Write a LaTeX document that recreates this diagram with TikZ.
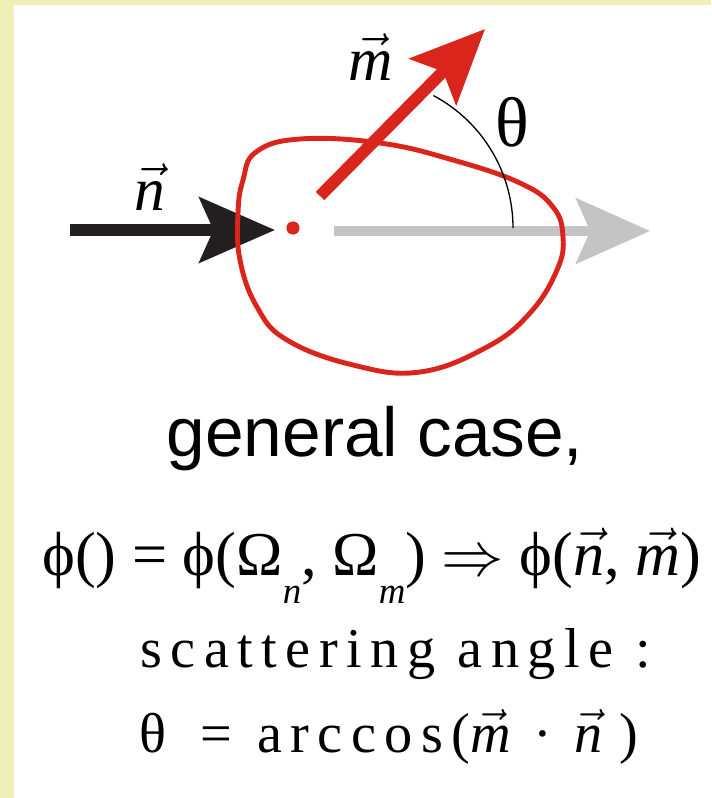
\documentclass[tikz,border=0pt]{standalone}
\usepackage{fix-cm}
\usepackage{fontspec}
\setmainfont{Liberation Serif}
\newfontfamily\arialfont{Liberation Sans}
\newfontfamily\spacedfont[LetterSpace=15]{Liberation Serif}
\usetikzlibrary{arrows.meta}
\definecolor{scred}{RGB}{218,37,29}
\definecolor{scgray}{RGB}{196,196,196}
\definecolor{scblack}{RGB}{35,31,32}
\definecolor{panelbg}{RGB}{239,240,184}
\newcommand\vecit[1]{$\vec{\mathit{#1}}$}
\newcommand\lowsub[1]{\raisebox{-0.45em}{\fontsize{21}{24}\selectfont\textit{#1}}}

\begin{document}
\begin{tikzpicture}[x=0.02cm, y=-0.02cm,
    incoming/.style={draw=scblack, line width=6.3pt, -{Stealth[length=43pt,width=37pt,inset=8pt]}},
    outgoing/.style={draw=scred, line width=6.8pt, -{Stealth[length=42pt,width=37pt,inset=8pt]}},
    forward/.style={draw=scgray, line width=5.7pt, -{Stealth[length=42pt,width=37pt,inset=8pt]}},
    blob/.style={draw=scred, line width=2.8pt},
    vlabel/.style={font=\fontsize{35}{40}\selectfont, inner sep=0pt},
    dot/.style={circle, fill=scred, inner sep=0pt, minimum size=7.5pt}]
  % panel background
  \fill[panelbg] (0,0) rectangle (711,798);
  \fill[white] (14,5) rectangle (711,798);

  % scattering centre and arrow ends
  \node[dot] (origin) at (293,228) {};
  \coordinate (nstart) at (70,230);
  \coordinate (ntip) at (275,230);
  \coordinate (fstart) at (334,231);
  \coordinate (ftip) at (650,231);
  \coordinate (mstart) at (320,196);
  \coordinate (mtip) at (485,29);
  \coordinate (thetafoot) at (513,228);

  % forward direction
  \draw[forward] (fstart) -- (ftip);
  % incoming beam
  \draw[incoming] (nstart) -- (ntip);
  % angular distribution
  \draw[blob] plot[smooth cycle, tension=0.7] coordinates {
    (243,180) (256,152) (300,139) (380,143) (453,160) (520,183) (553,207)
    (563,237) (557,270) (530,313) (487,347) (420,372) (353,365)
    (287,340) (257,307) (240,260) (238,213)};
  % scattered direction
  \draw[outgoing] (mstart) -- (mtip);
  % angle
  \draw[line width=0.75pt] (thetafoot) arc[start angle=0, end angle=-62, radius=150];

  % labels
  \node[vlabel, anchor=base] (mlabel) at (371,80) {\vecit{m}};
  \node[vlabel, anchor=base] (nlabel) at (150,210) {\vecit{n}};
  \node[font=\fontsize{40}{44}\selectfont, inner sep=0pt] (thetalabel) at (512,122) {θ};

  \node[font=\arialfont\fontsize{39.5}{44}\selectfont, anchor=base] (caption) at (375,456) {general case,};
  \node[font=\fontsize{35.5}{40}\selectfont, anchor=base] (philine) at (372,575)
    {ϕ() = ϕ(Ω\lowsub{n}, Ω\lowsub{m}) $\Rightarrow$ ϕ(\vecit{n}, \vecit{m})};
  \node[font=\spacedfont\fontsize{32}{38}\selectfont, anchor=base] (anglehead) at (396,667) {scattering angle :};
  \node[font=\spacedfont\fontsize{32}{38}\selectfont, anchor=base] (angleline) at (389,752)
    {θ\hspace{0.6em}=\hspace{0.45em}arccos(\vecit{m}\hspace{0.4em}·\hspace{0.4em}\vecit{n}\hspace{0.3em})};
\end{tikzpicture}
\end{document}
